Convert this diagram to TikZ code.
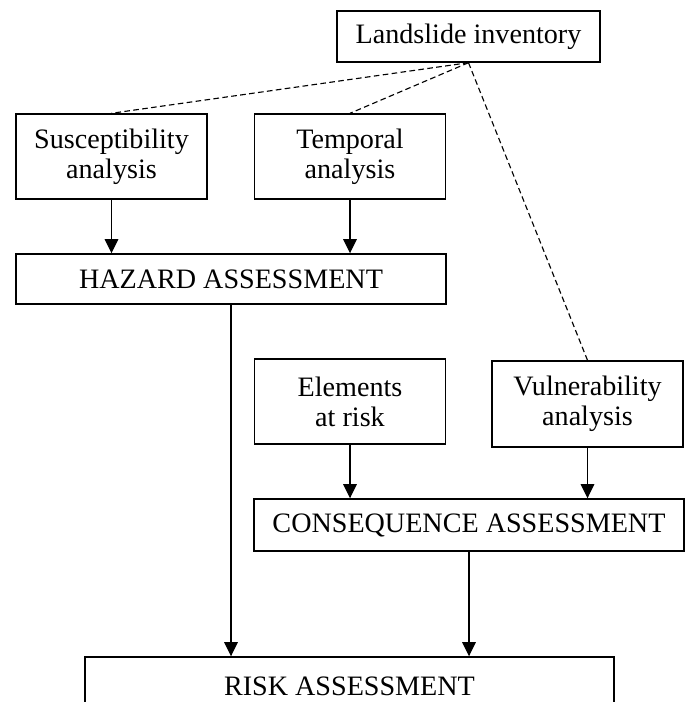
\documentclass[tikz,border=0pt]{standalone}
\usepackage{fontspec}
\setmainfont{Liberation Serif}
\usetikzlibrary{arrows.meta}
\tikzset{
  box/.style={draw, line width=0.5pt, align=center, inner sep=0pt, font=\fontsize{10}{10.7}\selectfont},
  stage box/.style={box, minimum width=2.39cm, minimum height=1.0625cm},
  wide box/.style={box, minimum width=5.375cm, minimum height=0.64cm},
  flow arrow/.style={line width=0.45pt, -{Triangle[length=5pt,width=4.8pt]}},
  data link/.style={line width=0.4pt, dash pattern=on 2pt off 1.2pt},
}

\begin{document}
\begin{tikzpicture}[x=0.0125cm,y=-0.0125cm]
\clip (0,0) rectangle (690,702);
% the nodes
\node [box, minimum width=3.2875cm, minimum height=0.6375cm] (inv) at (468.5,36.5) {Landslide inventory};
\node [stage box] (susc) at (111.5,156.5) {Susceptibility\\analysis};
\node [stage box] (temp) at (350,156.5) {Temporal\\analysis};
\node [wide box, minimum height=0.625cm] (haz) at (231,279) {HAZARD ASSESSMENT};
\node [stage box] (elem) at (350,401.5) {Elements\\at risk};
\node [stage box, minimum height=1.075cm] (vuln) at (587.5,404) {Vulnerability\\analysis};
\node [wide box, minimum height=0.65cm] (cons) at (469,525) {CONSEQUENCE ASSESSMENT};
\node [box, minimum width=6.6125cm, minimum height=0.725cm] (risk) at (349.5,686) {RISK ASSESSMENT};
%links from the inventory
\draw[data link] (inv.south) -- (susc.north);
\draw[data link] (inv.south) -- (temp.north);
\draw[data link] (inv.south) -- (vuln.north);
%drawings of vectors
\draw[flow arrow] (susc.south) -- (susc.south |- haz.north);
\draw[flow arrow] (temp.south) -- (temp.south |- haz.north);
\draw[flow arrow] (elem.south) -- (elem.south |- cons.north);
\draw[flow arrow] (vuln.south) -- (vuln.south |- cons.north);
\draw[flow arrow] (haz.south) -- (haz.south |- risk.north);
\draw[flow arrow] (cons.south) -- (cons.south |- risk.north);
\end{tikzpicture}
\end{document}
